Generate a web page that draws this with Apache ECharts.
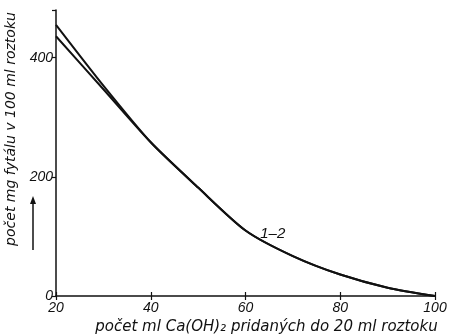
<!DOCTYPE html>
<html>
<head>
<meta charset="utf-8">
<script src="https://cdn.jsdelivr.net/npm/echarts@6/dist/echarts.min.js"></script>
<style>
  html, body { margin: 0; padding: 0; background: #fff; }
  #chart { width: 450px; height: 336px; }
</style>
</head>
<body>
<div id="chart"></div>
<script>
// ml Ca(OH)2 added vs. mg phytate in 100 ml solution
const xTicks = [20, 40, 60, 80, 100];
const yTicks = [0, 200, 400];
const curve1 = [[20, 455], [30, 353], [40, 258], [50, 182], [60, 110], [70, 67], [80, 36], [90, 14], [100, 0]];
const curve2 = [[20, 436], [30, 347], [40, 258], [50, 182], [60, 110], [70, 67], [80, 36], [90, 14], [100, 0]];
const curveLabel = { text: '1–2', x: 63, y: 104 };

const chart = echarts.init(document.getElementById('chart'));
const font = 'Liberation Sans';
const nameFont = 'DejaVu Sans';

const lineSeries = (name, data) => ({
  name,
  type: 'line',
  data,
  smooth: 0.25,
  symbol: 'none',
  lineStyle: { color: '#111', width: 2 },
});

chart.setOption({
  animation: false,
  backgroundColor: '#fff',
  grid: { left: 56, right: 15, top: 10, bottom: 40, outerBoundsMode: 'none', containLabel: false },
  xAxis: [
    {
      type: 'value',
      min: 20,
      max: 100,
      interval: 20,
      name: 'počet ml Ca(OH)₂ pridaných do 20 ml roztoku',
      nameLocation: 'middle',
      nameGap: 20,
      nameTextStyle: { fontFamily: nameFont, fontStyle: 'italic', fontSize: 15, color: '#111', padding: [0, 0, 0, 42] },
      axisLine: { lineStyle: { color: '#111', width: 1.5 } },
      axisTick: { length: 4, lineStyle: { color: '#111', width: 1.2 } },
      axisLabel: {
        fontFamily: font, fontStyle: 'italic', fontSize: 14, color: '#111', margin: 5,
        formatter: v => (xTicks.includes(v) ? String(v) : ''),
      },
      splitLine: { show: false },
    },
    {
      type: 'value',
      min: 20,
      max: 100,
      interval: 20,
      position: 'bottom',
      axisLine: { show: false },
      axisTick: { inside: true, length: 4, lineStyle: { color: '#111', width: 1.2 } },
      axisLabel: { show: false },
      splitLine: { show: false },
    },
  ],
  yAxis: {
    type: 'value',
    min: 0,
    max: 480,
    interval: 200,
    name: 'počet mg fytálu v 100 ml roztoku',
    nameLocation: 'middle',
    nameGap: 32,
    nameRotate: 90,
    nameTextStyle: { fontFamily: nameFont, fontStyle: 'italic', fontSize: 14, color: '#111', padding: [0, 0, 0, 48] },
    axisLine: { show: true, lineStyle: { color: '#111', width: 1.5 } },
    axisTick: { show: true, length: 4, lineStyle: { color: '#111', width: 1.2 } },
    axisLabel: {
      fontFamily: font, fontStyle: 'italic', fontSize: 14, color: '#111', margin: 3,
      formatter: v => (yTicks.includes(v) ? String(v) : ''),
    },
    splitLine: { show: false },
  },
  series: [
    lineSeries('1', curve1),
    Object.assign(lineSeries('2', curve2), {
      markPoint: {
        symbol: 'circle',
        symbolSize: 1,
        itemStyle: { color: 'rgba(0,0,0,0)' },
        label: {
          show: true,
          formatter: curveLabel.text,
          position: 'right',
          distance: 0,
          fontFamily: font, fontStyle: 'italic', fontSize: 15, color: '#111',
        },
        data: [{ coord: [curveLabel.x, curveLabel.y] }],
      },
    }),
  ],
  graphic: [
    {
      type: 'line',
      shape: { x1: 33, y1: 250, x2: 33, y2: 202 },
      style: { stroke: '#111', lineWidth: 1.5 },
    },
    {
      type: 'polygon',
      shape: { points: [[30, 204], [36, 204], [33, 196]] },
      style: { fill: '#111' },
    },
  ],
});
</script>
</body>
</html>
